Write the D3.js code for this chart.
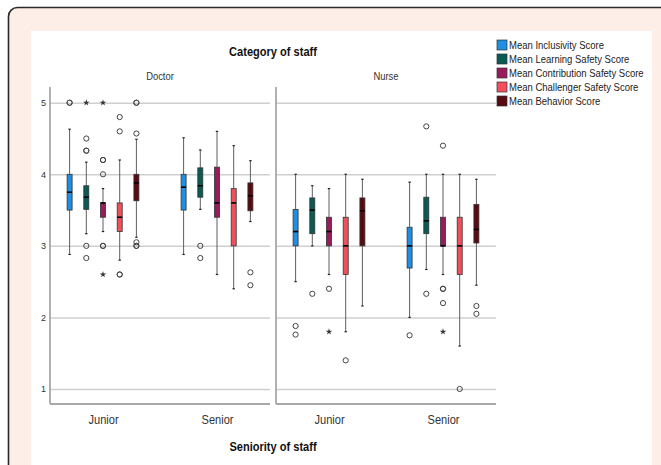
<!DOCTYPE html>
<html>
<head>
<meta charset="utf-8">
<script src="https://cdn.jsdelivr.net/npm/d3@7"></script>
<style>
  html, body { margin: 0; padding: 0; background: #fff; }
  svg { display: block; }
  .narrow { font-family: "Liberation Sans", Arial, sans-serif; }
</style>
</head>
<body>
<svg id="chart" width="661" height="465"></svg>
<script>
// ---------------- DATA ----------------
const categories = ["Doctor", "Nurse"];
const seniority = ["Junior", "Senior"];
const seriesNames = [
  "Mean Inclusivity Score",
  "Mean Learning Safety Score",
  "Mean Contribution Safety Score",
  "Mean Challenger Safety Score",
  "Mean Behavior Score"
];
const yTicks = [1, 2, 3, 4, 5];
// group order: Doctor-Junior, Doctor-Senior, Nurse-Junior, Nurse-Senior
// each: [whisker low, Q1, median, Q3, whisker high]
const inclusivityBox  = [[2.88, 3.5, 3.75, 4.0, 4.63], [2.88, 3.5, 3.82, 4.0, 4.51], [2.5, 3.0, 3.2, 3.51, 4.0], [2.0, 2.69, 3.0, 3.26, 3.89]];
const learningBox     = [[3.17, 3.51, 3.68, 3.84, 4.17], [3.51, 3.68, 3.84, 4.09, 4.34], [3.0, 3.17, 3.5, 3.67, 3.84], [2.67, 3.17, 3.35, 3.68, 4.0]];
const contributionBox = [[3.2, 3.4, 3.6, 3.6, 3.8], [2.6, 3.4, 3.6, 4.1, 4.6], [2.6, 3.0, 3.2, 3.4, 3.8], [2.6, 3.0, 3.0, 3.4, 4.0]];
const challengerBox   = [[2.8, 3.2, 3.4, 3.6, 4.2], [2.4, 3.0, 3.6, 3.8, 4.4], [1.8, 2.6, 3.0, 3.4, 4.0], [1.6, 2.6, 3.0, 3.4, 4.0]];
const behaviorBox     = [[3.12, 3.63, 3.88, 4.0, 4.49], [3.34, 3.49, 3.7, 3.88, 4.19], [2.16, 3.0, 3.49, 3.67, 3.93], [2.45, 3.04, 3.23, 3.58, 3.93]];
// outliers (circles) per group
const inclusivityOut  = [[5, 5], [], [1.88, 1.76], [1.75]];
const learningOut     = [[4.5, 4.33, 4.33, 3.0, 2.83], [3.0, 2.83], [2.33], [4.67, 2.33]];
const contributionOut = [[4.2, 4.2, 4.0, 3.0, 3.0], [], [2.4], [4.4, 2.4, 2.4, 2.2]];
const challengerOut   = [[4.8, 4.6, 2.6, 2.6], [], [1.4], [1.0]];
const behaviorOut     = [[5, 5, 4.57, 3.05, 3.0, 3.0], [2.63, 2.45], [], [2.16, 2.05]];
// extreme values (stars) per group
const inclusivityExt  = [[], [], [], []];
const learningExt     = [[5], [], [], []];
const contributionExt = [[5, 2.6], [], [1.8], [1.8]];
const challengerExt   = [[], [], [], []];
const behaviorExt     = [[], [], [], []];

// ---------------- STYLE ----------------
const seriesColors = ["#1f8fe3", "#0b5b55", "#9a1b5c", "#f24f5c", "#5a0a12"];
const SQ = 0.82; // horizontal condensing of text

const boxes = [inclusivityBox, learningBox, contributionBox, challengerBox, behaviorBox];
const outs = [inclusivityOut, learningOut, contributionOut, challengerOut, behaviorOut];
const exts = [inclusivityExt, learningExt, contributionExt, challengerExt, behaviorExt];

const svg = d3.select("#chart");

function ntext(parent, x, y, txt, size, anchor, weight, color) {
  return parent.append("text").attr("class", "narrow")
    .attr("transform", `translate(${x},${y}) scale(${SQ},1)`)
    .attr("text-anchor", anchor || "start")
    .attr("font-size", size).attr("font-weight", weight || "normal")
    .attr("fill", color || "#333").text(txt);
}

// background frame
svg.append("rect").attr("width", 661).attr("height", 465).attr("fill", "#fff");
svg.append("rect").attr("x", 8.5).attr("y", 7.5).attr("width", 680).attr("height", 490)
  .attr("rx", 9).attr("fill", "#fdeee7").attr("stroke", "#2a2a2a").attr("stroke-width", 1.6);
svg.append("rect").attr("x", 31).attr("y", 31).attr("width", 621).attr("height", 440).attr("fill", "#fff");

// scales
const y = d3.scaleLinear().domain([0.79, 5.22]).range([404, 87]);
const panel = d3.scaleBand().domain(categories).range([50, 496]).paddingInner(6 / 226).paddingOuter(0);
const xs = d3.scalePoint().domain(seniority).range([53, 167]);
const off = d3.scalePoint().domain(seriesNames).range([-33.4, 33.4]);
const pw = panel.bandwidth();

// titles
ntext(svg, 273, 55.5, "Category of staff", 13.5, "middle", "bold", "#111");
ntext(svg, 273, 450.5, "Seniority of staff", 13.5, "middle", "bold", "#111");

const star = d3.symbol().type(d3.symbolStar).size(13);

categories.forEach((cat, ci) => {
  const g = svg.append("g").attr("transform", `translate(${panel(cat)},0)`);
  // panel label
  ntext(g, pw / 2, 80, cat, 11.5, "middle", "normal", "#333");
  // gridlines
  g.append("g").call(d3.axisLeft(y).tickValues(yTicks).tickSize(-pw).tickFormat(""))
    .call(s => s.select(".domain").remove())
    .call(s => s.selectAll(".tick line").attr("stroke", "#cfcfcf").attr("stroke-width", 1.5));
  // axis lines
  g.append("line").attr("x1", 0).attr("x2", 0).attr("y1", 87).attr("y2", 404)
    .attr("stroke", "#a8a8a8").attr("stroke-width", 1.8);
  g.append("line").attr("x1", 0).attr("x2", pw).attr("y1", 404).attr("y2", 404)
    .attr("stroke", "#a8a8a8").attr("stroke-width", 1.8);
  // y tick labels on first panel
  if (ci === 0) {
    g.append("g").call(d3.axisLeft(y).tickValues(yTicks).tickSize(0).tickPadding(4).tickFormat(d3.format("d")))
      .call(s => s.select(".domain").remove())
      .call(s => s.selectAll("text").attr("class", "narrow").attr("font-size", 9).attr("fill", "#333"));
  }
  // x axis labels
  g.append("g").attr("transform", "translate(0,404)")
    .call(d3.axisBottom(xs).tickSize(0).tickPadding(10))
    .call(s => s.select(".domain").remove())
    .call(s => s.selectAll("text").attr("class", "narrow").attr("font-size", 13.5).attr("fill", "#333")
      .attr("transform", `scale(${SQ},1)`));

  seniority.forEach((sen, si) => {
    const gi = ci * 2 + si;
    seriesNames.forEach((name, k) => {
      const cx = xs(sen) + off(name);
      const [lo, q1, med, q3, hi] = boxes[k][gi];
      const bw = 5;
      // whiskers
      g.append("line").attr("x1", cx).attr("x2", cx).attr("y1", y(hi)).attr("y2", y(q3))
        .attr("stroke", "#5e5e5e").attr("stroke-width", 1);
      g.append("line").attr("x1", cx).attr("x2", cx).attr("y1", y(q1)).attr("y2", y(lo))
        .attr("stroke", "#5e5e5e").attr("stroke-width", 1);
      [lo, hi].forEach(v => g.append("line").attr("x1", cx - 1.2).attr("x2", cx + 1.2)
        .attr("y1", y(v)).attr("y2", y(v)).attr("stroke", "#222").attr("stroke-width", 1.2));
      // box
      g.append("rect").attr("x", cx - bw / 2).attr("y", y(q3)).attr("width", bw)
        .attr("height", Math.max(0.5, y(q1) - y(q3)))
        .attr("fill", seriesColors[k]).attr("stroke", "#333").attr("stroke-width", 0.8);
      g.append("line").attr("x1", cx - bw / 2).attr("x2", cx + bw / 2).attr("y1", y(med)).attr("y2", y(med))
        .attr("stroke", "#000").attr("stroke-width", 1.6);
      // outliers
      outs[k][gi].forEach(v => g.append("circle").attr("cx", cx).attr("cy", y(v)).attr("r", 2.6)
        .attr("fill", "none").attr("stroke", "#444").attr("stroke-width", 1));
      exts[k][gi].forEach(v => g.append("path").attr("d", star)
        .attr("transform", `translate(${cx},${y(v)})`).attr("fill", "#333"));
    });
  });
});

// legend
const lg = svg.append("g");
seriesNames.forEach((name, k) => {
  const cy = 45 + k * 14;
  lg.append("rect").attr("x", 497).attr("y", cy - 5).attr("width", 10).attr("height", 10)
    .attr("fill", seriesColors[k]).attr("stroke", "#333").attr("stroke-width", 0.7);
  ntext(lg, 509, cy + 4.2, name, 11.6, "start", "normal", "#222");
});
</script>
</body>
</html>
